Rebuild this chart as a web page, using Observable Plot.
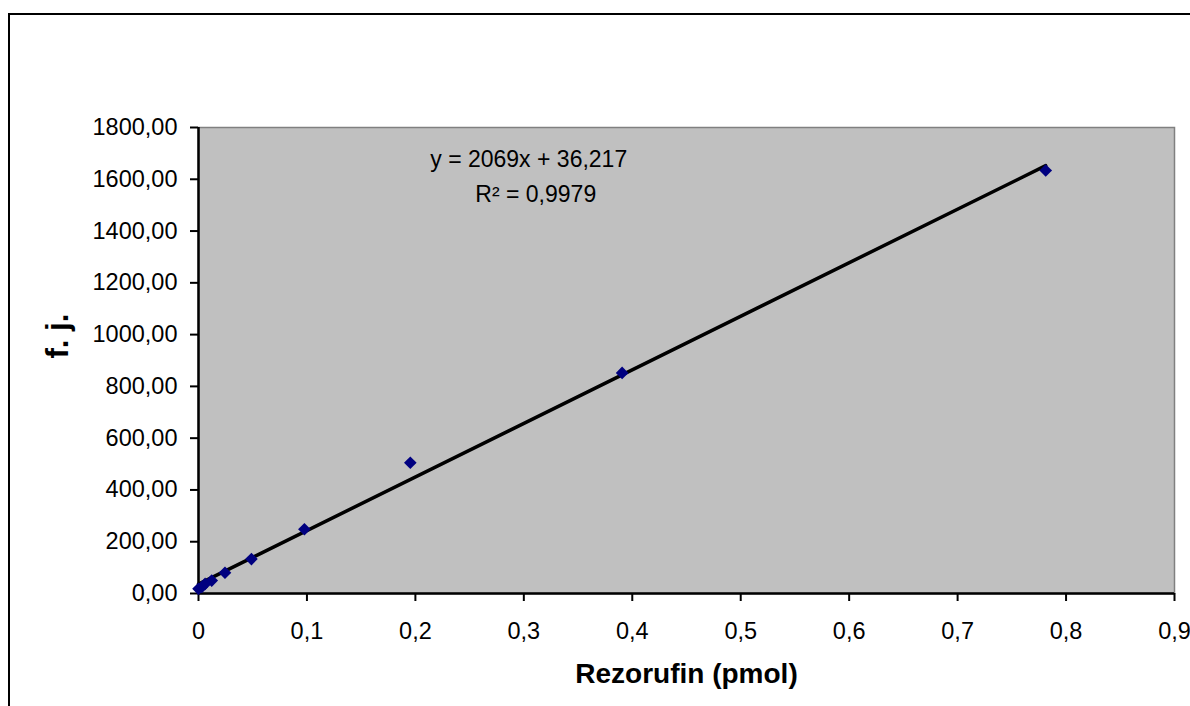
<!DOCTYPE html>
<html>
<head>
<meta charset="utf-8">
<script src="https://cdn.jsdelivr.net/npm/d3@7"></script>
<script src="https://cdn.jsdelivr.net/npm/@observablehq/plot@0.6"></script>
<style>
  html, body { margin: 0; padding: 0; background: #fff; overflow: hidden; }
  #wrap { position: relative; width: 1190px; height: 706px; }
  #border { position: absolute; left: 8px; top: 13px; width: 1200px; height: 720px; border: 2.5px solid #000; box-sizing: border-box; pointer-events: none; }
  #chart { position: absolute; left: 0; top: 0; }
</style>
</head>
<body>
<div id="wrap">
  <div id="chart"></div>
  <div id="border"></div>
</div>
<script>
const rezorufin = [0.78125, 0.390625, 0.1953125, 0.09765625, 0.048828125, 0.0244140625, 0.0122, 0.0061, 0.0031, 0];
const fj = [1634, 852, 505, 248, 133, 80, 50, 37, 25, 18];
const slope = 2069;
const intercept = 36.217;
const xTicks = [0, 0.1, 0.2, 0.3, 0.4, 0.5, 0.6, 0.7, 0.8, 0.9];
const yTicks = [0, 200, 400, 600, 800, 1000, 1200, 1400, 1600, 1800];
const eqLines = ["y = 2069x + 36,217", "R² = 0,9979"];
const eqX = [0.3045, 0.311];
const eqY = [1677, 1541];

const points = rezorufin.map((x, i) => ({x, y: fj[i]}));
const xMax = d3.max(rezorufin);
const trend = [{x: 0, y: intercept}, {x: xMax, y: slope * xMax + intercept}];
const eq = eqLines.map((t, i) => ({t, x: eqX[i], y: eqY[i]}));

const comma = s => s.replace(".", ",");

const chart = Plot.plot({
  width: 1190,
  height: 706,
  marginLeft: 198,
  marginRight: 16,
  marginTop: 127,
  marginBottom: 113,
  style: {fontFamily: "'Liberation Sans', Arial, sans-serif", fontSize: "23px", background: "transparent", color: "#000"},
  x: {domain: [0, 0.9], ticks: xTicks},
  y: {domain: [0, 1800], ticks: yTicks},
  marks: [
    Plot.frame({fill: "#C0C0C0", stroke: "#808080", strokeWidth: 1.5}),
    Plot.axisX({ticks: xTicks, tickFormat: d => comma(String(+d.toFixed(1))), tickSize: 8, tickPadding: 21, strokeWidth: 2, label: null, fontSize: 23.5}),
    Plot.axisY({ticks: yTicks, tickFormat: d => comma(d3.format(".2f")(d)), tickSize: 8, tickPadding: 13, strokeWidth: 2, label: null, fontSize: 23.5}),
    Plot.ruleY([0], {stroke: "#000", strokeWidth: 2.5}),
    Plot.ruleX([0], {stroke: "#000", strokeWidth: 2.5}),
    Plot.line(trend, {x: "x", y: "y", stroke: "#000", strokeWidth: 3.5}),
    Plot.dot(points, {x: "x", y: "y", symbol: "diamond2", r: 5.7, fill: "#000080", stroke: "none"}),
    Plot.text(eq, {x: "x", y: "y", text: "t", fontSize: 23, fill: "#000"}),
    Plot.text(["Rezorufin (pmol)"], {frameAnchor: "bottom", dy: 89, fontWeight: "bold", fontSize: 28, fill: "#000"}),
    Plot.text(["f. j."], {frameAnchor: "left", dx: -140, dy: -2, rotate: -90, fontWeight: "bold", fontSize: 31, fill: "#000"})
  ]
});
document.getElementById("chart").appendChild(chart);
</script>
</body>
</html>
